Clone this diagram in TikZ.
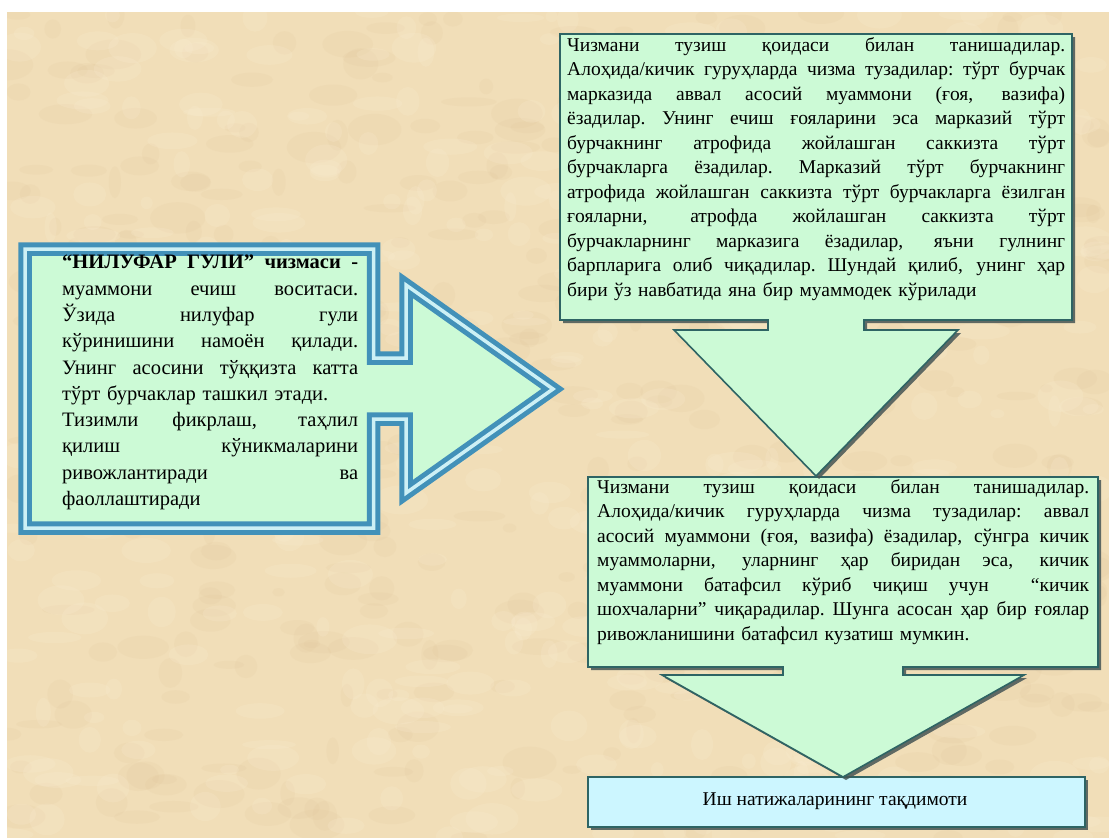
\documentclass[tikz,border=0pt]{standalone}
\usepackage{fontspec}
\setmainfont{Liberation Serif}
\definecolor{parch}{RGB}{241,222,184}
\definecolor{parchD}{RGB}{222,194,150}
\definecolor{parchL}{RGB}{252,240,214}
\definecolor{mint}{RGB}{204,250,214}
\definecolor{lcyan}{RGB}{204,246,255}
\definecolor{edge}{RGB}{46,100,100}
\definecolor{shade}{RGB}{70,85,85}
\definecolor{cblue}{RGB}{66,145,185}
\definecolor{cgap}{RGB}{205,240,245}
\newcommand\jline[2]{\leavevmode\hbox to #1{\spaceskip=0.25em plus 1fil minus 0.03em\relax\xspaceskip=\spaceskip #2}}
\begin{document}
\begin{tikzpicture}[x=1pt,y=-1pt,
  calloutbox/.style={fill=mint, draw=edge, line width=1.6pt, line join=miter},
  resultbox/.style={fill=lcyan, draw=edge, line width=1.6pt},
  shadowbox/.style={fill=shade, opacity=0.85, shift={(3,3)}},
  leftcallout/.style={fill=mint, draw=cblue, double=cgap, double distance=3.5pt, line width=5pt, line join=miter},
  pathA/.style={insert path={(560,34) -- (1072,34) -- (1072,320) -- (864,320) -- (864,330) -- (958,330) -- (816,476) -- (674,330) -- (768,330) -- (768,320) -- (560,320) -- cycle}},
  pathB/.style={insert path={(588,477) -- (1098,477) -- (1098,667) -- (903,667) -- (903,675) -- (1024,675) -- (843,777) -- (662,675) -- (783,675) -- (783,667) -- (588,667) -- cycle}},
  pathC/.style={insert path={(588,777) rectangle (1085,827)}},
  txt/.style={inner sep=0pt, anchor=north west, align=left, text=black},
  bodyfont/.style={font=\fontsize{19.5}{24.5}\selectfont},
  leftfont/.style={font=\fontsize{20.5}{26.3}\selectfont}]
\useasboundingbox (0,0) rectangle (1109,838);
\fill[white] (0,0) rectangle (1109,838);
\fill[parch] (7,12) rectangle (1109,838);
\begin{scope}
  \clip (7,12) rectangle (1109,838);
  \pgfmathsetseed{11}
  \foreach \i in {1,...,450}{
    \pgfmathsetmacro\px{7+rnd*1102}
    \pgfmathsetmacro\py{12+rnd*826}
    \pgfmathsetmacro\rx{6+rnd*22}
    \pgfmathsetmacro\ry{4+rnd*12}
    \fill[parchD, opacity=0.13] (\px,\py) ellipse [x radius=\rx, y radius=\ry];
  }
  \foreach \i in {1,...,450}{
    \pgfmathsetmacro\px{7+rnd*1102}
    \pgfmathsetmacro\py{12+rnd*826}
    \pgfmathsetmacro\rx{6+rnd*22}
    \pgfmathsetmacro\ry{4+rnd*12}
    \fill[parchL, opacity=0.18] (\px,\py) ellipse [x radius=\rx, y radius=\ry];
  }
\end{scope}

% left callout (right arrow)
\draw[leftcallout] (25,249) -- (373.5,249) -- (373.5,358) -- (406,358) -- (406,285) -- (553,389) -- (406,493) -- (406,419) -- (373.5,419) -- (373.5,528) -- (25,528) -- cycle;
\node[txt, leftfont, text width=296pt] (intro) at (62,255) {%
\jline{296pt}{\textbf{“НИЛУФАР ГУЛИ” чизмаси -}}\\
\jline{296pt}{муаммони ечиш воситаси.}\\
\jline{296pt}{Ўзида нилуфар гули}\\
\jline{296pt}{кўринишини намоён қилади.}\\
\jline{296pt}{Унинг асосини тўққизта катта}\\
тўрт бурчаклар ташкил этади.\\
\jline{296pt}{Тизимли фикрлаш, таҳлил}\\
\jline{296pt}{қилиш кўникмаларини}\\
\jline{296pt}{ривожлантиради ва}\\
фаоллаштиради};

% result box
\fill[shadowbox, pathC];
\draw[resultbox, pathC];
\node[bodyfont] (res) at (835,801) {Иш натижаларининг тақдимоти};

% second callout
\fill[shadowbox, pathB];
\draw[calloutbox, pathB];
\node[txt, bodyfont, text width=492pt] (s2) at (597,479) {%
\jline{492pt}{Чизмани тузиш қоидаси билан танишадилар.}\\
\jline{492pt}{Алоҳида/кичик гуруҳларда чизма тузадилар: аввал}\\
\jline{492pt}{асосий муаммони (ғоя, вазифа) ёзадилар, сўнгра кичик}\\
\jline{492pt}{муаммоларни, уларнинг ҳар биридан эса, кичик}\\
\jline{492pt}{муаммони батафсил кўриб чиқиш учун \ “кичик}\\
\jline{492pt}{шохчаларни” чиқарадилар. Шунга асосан ҳар бир ғоялар}\\
ривожланишини батафсил кузатиш мумкин.};

% first callout
\fill[shadowbox, pathA];
\draw[calloutbox, pathA];
\node[txt, bodyfont, text width=498pt] (s1) at (567,37) {%
\jline{498pt}{Чизмани тузиш қоидаси билан танишадилар.}\\
\jline{498pt}{Алоҳида/кичик гуруҳларда чизма тузадилар: тўрт бурчак}\\
\jline{498pt}{марказида аввал асосий муаммони (ғоя, вазифа)}\\
\jline{498pt}{ёзадилар. Унинг ечиш ғояларини эса марказий тўрт}\\
\jline{498pt}{бурчакнинг атрофида жойлашган саккизта тўрт}\\
\jline{498pt}{бурчакларга ёзадилар. Марказий тўрт бурчакнинг}\\
\jline{498pt}{атрофида жойлашган саккизта тўрт бурчакларга ёзилган}\\
\jline{498pt}{ғояларни, атрофда жойлашган саккизта тўрт}\\
\jline{498pt}{бурчакларнинг марказига ёзадилар, яъни гулнинг}\\
\jline{498pt}{барпларига олиб чиқадилар. Шундай қилиб, унинг ҳар}\\
бири ўз навбатида яна бир муаммодек кўрилади};
\end{tikzpicture}
\end{document}
